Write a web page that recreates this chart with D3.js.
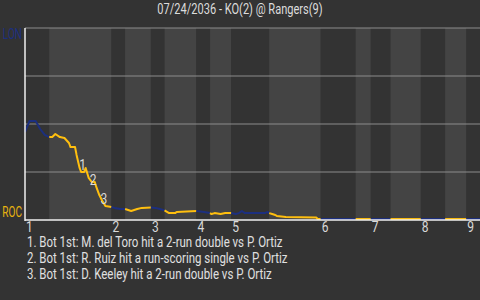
<!DOCTYPE html>
<html>
<head>
<meta charset="utf-8">
<script src="https://cdn.jsdelivr.net/npm/d3@7"></script>
<style>
  html, body { margin: 0; padding: 0; background: #333333; }
  svg { display: block; }
  text { font-family: "Roboto", "DejaVu Sans", sans-serif; }
</style>
</head>
<body>
<svg id="chart" width="480" height="300"></svg>
<script>
const title = "07/24/2036 - KO(2) @ Rangers(9)";
const awayTeam = "LON";
const homeTeam = "ROC";
const innings = [1, 2, 3, 4, 5, 6, 7, 8, 9];
// first pitch of every half inning (top, bottom, top, ...)
const halfStarts = [0, 16, 57, 66, 83, 92, 113, 122, 136, 161, 195, 218, 228, 241, 261, 277, 291];
const gameEnd = 300;

const pitchNo = [0, 3, 7, 10, 13, 16, 18, 20, 23, 26, 29, 30, 33, 34, 36, 37, 39, 40, 42, 44,
  46, 47, 49, 51, 53, 57, 59, 63, 66, 68, 70, 72, 74, 77, 83, 86, 89, 92, 95, 99,
  100, 113, 118, 122, 123, 125, 129, 132, 136, 139, 141, 143, 145, 158, 160, 161, 163, 165, 166, 172,
  192, 193, 195, 218, 228, 241, 261, 277, 291, 300];
const lonWinProb = [.458, .516, .516, .474, .443, .432, .432, .448, .432, .427, .401, .380, .380, .339, .271, .250, .250, .271, .219, .198,
  .198, .172, .130, .099, .073, .068, .063, .057, .057, .052, .047, .052, .057, .063, .065, .063, .057, .050, .036, .036,
  .042, .047, .042, .036, .031, .036, .031, .036, .036, .031, .036, .047, .036, .036, .042, .036, .031, .026, .021, .016,
  .013, .005, .005, .005, .005, .005, .005, .005, .005, .005];

const eventPitch = [36, 43, 50];
const eventProb = [.286, .208, .109];
const eventText = [
  "1. Bot 1st: M. del Toro hit a 2-run double vs P. Ortiz",
  "2. Bot 1st: R. Ruiz hit a run-scoring single vs P. Ortiz",
  "3. Bot 1st: D. Keeley hit a 2-run double vs P. Ortiz"
];

const gridTicks = [0.25, 0.5, 0.75, 1];

const svg = d3.select("#chart");
const margin = { top: 28, right: 0, bottom: 80, left: 25 };
const W = 480, H = 300;

const x = d3.scaleLinear().domain([0, gameEnd]).range([margin.left, W - margin.right]);
const y = d3.scaleLinear().domain([0, 1]).range([H - margin.bottom, margin.top]);

const awayCol = "#1c2f7f";
const homeCol = "#ffbf0f";

// half-inning bands
const halves = halfStarts.map((s, i) => ({ s, e: i < halfStarts.length - 1 ? halfStarts[i + 1] : gameEnd, i }));
svg.append("g").selectAll("rect")
  .data(halves)
  .enter().append("rect")
  .attr("x", d => x(d.s))
  .attr("y", y(1))
  .attr("width", d => x(d.e) - x(d.s))
  .attr("height", y(0) - y(1))
  .attr("fill", d => d.i % 2 ? "#444444" : "#333333");

// grid
svg.append("g").selectAll("line")
  .data(gridTicks)
  .enter().append("line")
  .attr("x1", x(0)).attr("x2", x(gameEnd))
  .attr("y1", d => y(d)).attr("y2", d => y(d))
  .attr("stroke", "#8c8c8c")
  .attr("stroke-width", 1);

// win prob line, coloured by batting team
const pts = pitchNo.map((p, i) => ({ p, v: lonWinProb[i] }));
const line = d3.line().x(d => x(d.p)).y(d => y(d.v));
svg.append("g").selectAll("path")
  .data(halves)
  .enter().append("path")
  .attr("d", h => line(pts.filter(d => d.p >= h.s && d.p <= h.e)))
  .attr("fill", "none")
  .attr("stroke", h => h.i % 2 ? homeCol : awayCol)
  .attr("stroke-width", 2)
  .attr("stroke-linejoin", "round");

// axes
svg.append("line")
  .attr("x1", x(0)).attr("x2", x(0))
  .attr("y1", y(1)).attr("y2", y(0) + 1)
  .attr("stroke", "#f0f0f0").attr("stroke-width", 1.5);
svg.append("line")
  .attr("x1", x(0)).attr("x2", x(gameEnd))
  .attr("y1", y(0)).attr("y2", y(0))
  .attr("stroke", "#f0f0f0").attr("stroke-width", 1.5);

function squeezedText(parent, tx, ty, str, anchor, size, fill, squeeze = 0.86) {
  return parent.append("g")
    .attr("transform", `translate(${tx},${ty}) scale(${squeeze},1)`)
    .append("text")
    .attr("text-anchor", anchor)
    .attr("font-size", size)
    .attr("fill", fill)
    .text(str);
}

// inning labels
const inningG = svg.append("g");
innings.forEach((n, i) => {
  squeezedText(inningG, x(halfStarts[i * 2]) + 1, y(0) + 12, n, "start", 14, "#d9d9d9");
});

// team labels
squeezedText(svg, 22, y(1) + 11, awayTeam, "end", 14, awayCol, 0.72);
squeezedText(svg, 22, y(0) - 3, homeTeam, "end", 14, "#e8b40f", 0.72);

// event markers
eventPitch.forEach((p, i) => {
  squeezedText(svg, x(p) + 3, y(eventProb[i]) + 5, i + 1, "middle", 14, "#dadada");
});

// title
squeezedText(svg, W / 2, 14, title, "middle", 14, "#dcdcdc", 0.79);

// notes under the chart
eventText.forEach((t, i) => {
  squeezedText(svg, 27, 247 + i * 16, t, "start", 14, "#e0e0e0", 0.82);
});
</script>
</body>
</html>
